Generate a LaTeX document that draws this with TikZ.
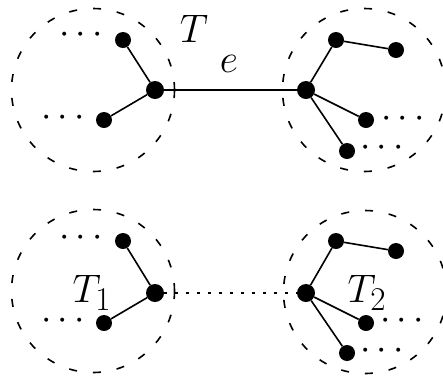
\documentclass[tikz,border=0pt]{standalone}
\usepackage{graphicx}
\begin{document}
\begin{tikzpicture}[x=1pt,y=-1pt,
  vtx/.style={circle,fill=black,inner sep=0pt,minimum size=16pt},
  hubv/.style={circle,fill=black,inner sep=0pt,minimum size=18pt},
  region/.style={circle,draw,line width=1.6pt,dash pattern=on 8pt off 16pt,inner sep=0pt,minimum size=163pt},
  ed/.style={line width=1.6pt},
  main/.style={line width=2.2pt},
  dotted link/.style={line width=1.6pt,dash pattern=on 3pt off 8pt},
  lab/.style={inner sep=0pt},
  dts/.style={inner sep=0pt}]
\useasboundingbox (0,0) rectangle (443,376);
% top
\node[region] (c1) at (93,90) {};
\node[region] (c2) at (364,90) {};
\node[hubv] (h1) at (155,90) {};
\node[vtx] (a1) at (123,40) {};
\node[vtx] (a2) at (104,120) {};
\node[hubv] (h2) at (306,90) {};
\node[vtx] (b1) at (336,40) {};
\node[vtx] (b2) at (396,50) {};
\node[vtx] (b3) at (366,120) {};
\node[vtx] (b4) at (347,151) {};
\draw[ed] (h1) -- (a1);
\draw[ed] (h1) -- (a2);
\draw[ed] (h2) -- (b1);
\draw[ed] (b1) -- (b2);
\draw[ed] (h2) -- (b3);
\draw[ed] (h2) -- (b4);
\draw[main] (h1.center) -- (h2.center);
\node[lab] (T) at (194,29) {\scalebox{1.6}{\Huge$T$}};
\node[lab] (e) at (229,64) {\scalebox{1.6}{\Huge$e$}};
\node[dts] (d1) at (81,35) {\scalebox{1.5}{\Huge$\cdots$}};
\node[dts] (d2) at (63,118) {\scalebox{1.5}{\Huge$\cdots$}};
\node[dts] (d3) at (403,119) {\scalebox{1.5}{\Huge$\cdots$}};
\node[dts] (d4) at (382,148) {\scalebox{1.5}{\Huge$\cdots$}};
% bottom
\node[region] (c3) at (93,291) {};
\node[region] (c4) at (365,292) {};
\node[hubv] (h3) at (155,293) {};
\node[vtx] (p1) at (123,241) {};
\node[vtx] (p2) at (104,323) {};
\node[hubv] (h4) at (306,293) {};
\node[vtx] (q1) at (336,241) {};
\node[vtx] (q2) at (396,251) {};
\node[vtx] (q3) at (366,323) {};
\node[vtx] (q4) at (347,353) {};
\draw[ed] (h3) -- (p1);
\draw[ed] (h3) -- (p2);
\draw[ed] (h4) -- (q1);
\draw[ed] (q1) -- (q2);
\draw[ed] (h4) -- (q3);
\draw[ed] (h4) -- (q4);
\draw[dotted link] (h3) -- (h4);
\node[lab] (T1) at (92,293) {\scalebox{1.6}{\Huge$T_1$}};
\node[lab] (T2) at (367,293) {\scalebox{1.6}{\Huge$T_2$}};
\node[dts] (d5) at (81,238) {\scalebox{1.5}{\Huge$\cdots$}};
\node[dts] (d6) at (63,321) {\scalebox{1.5}{\Huge$\cdots$}};
\node[dts] (d7) at (402,321) {\scalebox{1.5}{\Huge$\cdots$}};
\node[dts] (d8) at (382,351) {\scalebox{1.5}{\Huge$\cdots$}};
\end{tikzpicture}
\end{document}
